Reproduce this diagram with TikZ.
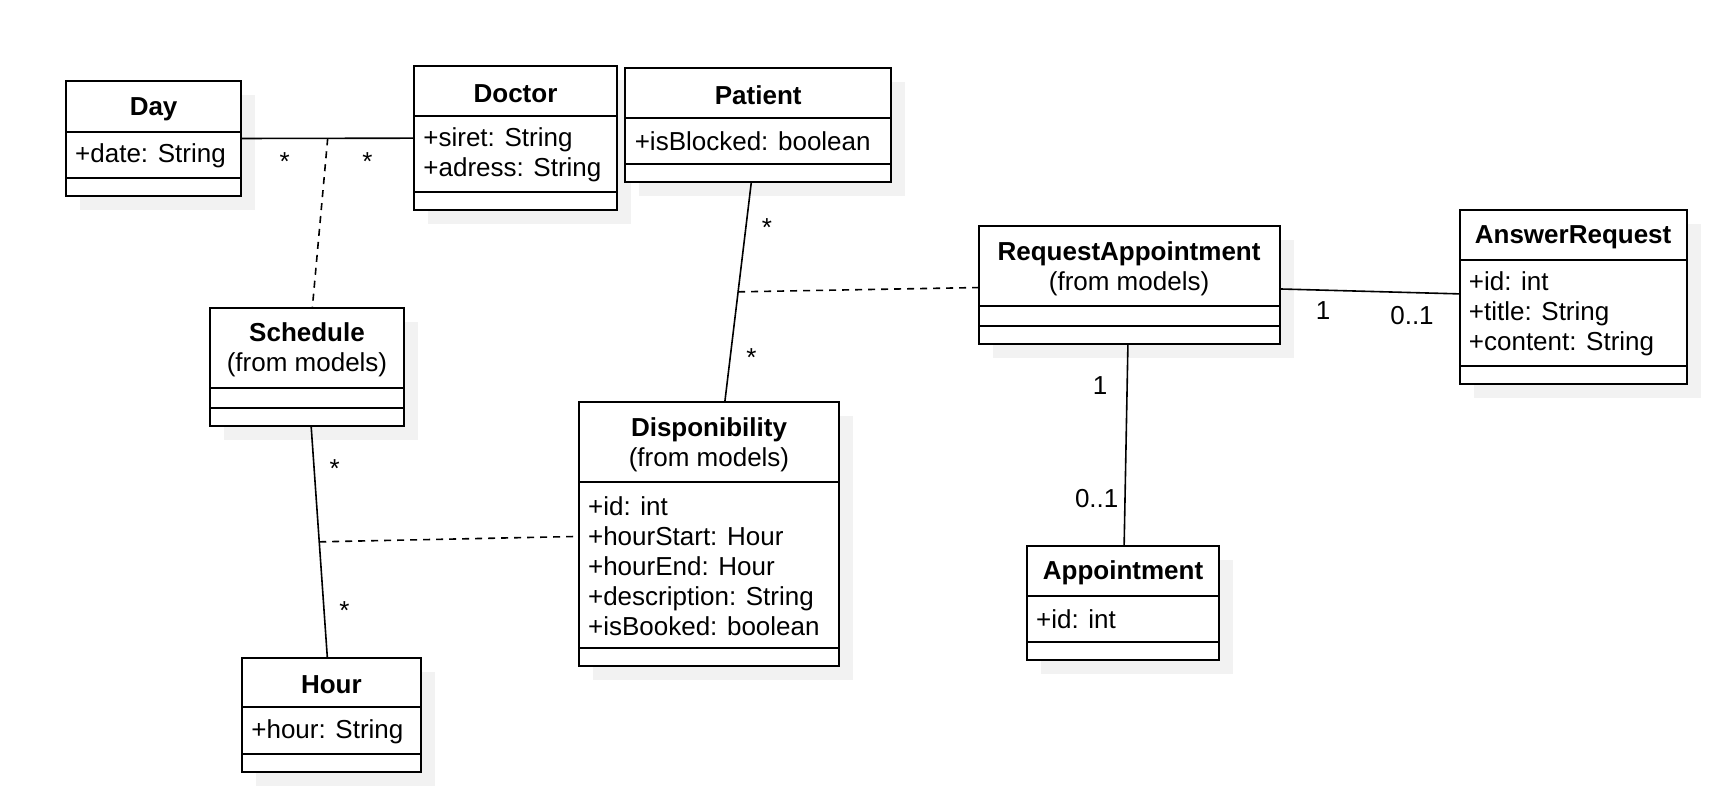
\documentclass[tikz,border=0pt]{standalone}
\usepackage{fontspec}
\setmainfont{Liberation Sans}
\usepackage{tikz}
\usetikzlibrary{fit}
\usetikzlibrary{calc}
\usepackage{color}
\definecolor{shadowgray}{RGB}{242, 242, 242}

\tikzset{
    every node/.style={font=\fontsize{13}{15}\selectfont},
    classbox/.style={draw, fill=white, line width=1pt, inner sep=0pt, outer sep=0pt},
    compart/.style={line width=1pt},
    attrs/.style={anchor=west, align=left, inner xsep=4.5pt, inner ysep=0pt},
    assoc/.style={line width=0.8pt},
    assocdash/.style={line width=0.8pt, dash pattern=on 3.5pt off 3pt},
    mult/.style={anchor=base, inner sep=0pt}
}

% name, left, top, right, bottom, header line, attribute line, title, attributes
\newcommand{\umlclass}[9]{%
    \fill[shadowgray] (#2+14,#3+14) rectangle (#4+14,#5+14);
    \node[classbox, fit={(#2,#3) (#4,#5)}] (#1) {};
    \draw[compart] (#2,#6) -- (#4,#6);
    \draw[compart] (#2,#7) -- (#4,#7);
    \node[align=center] at ({(#2+#4)/2},{(#3+#6)/2+2.5}) {#8};
    \node[attrs] at (#2,{(#6+#7)/2+1}) {#9};
}

\begin{document}
\begin{tikzpicture}[x=0.5pt, y=-0.5pt]
            \useasboundingbox (0,0) rectangle (1718,806);
            % Classes
            \umlclass{day}{65.8}{81.3}{241.4}{196}{131.7}{177.7}{\textbf{Day}}{+date: String}
            \umlclass{doctor}{414}{66}{617}{210}{115.7}{192}{\textbf{Doctor}}{+siret: String\\+adress: String}
            \umlclass{patient}{625.4}{68}{891}{182}{117.7}{163.7}{\textbf{Patient}}{+isBlocked: boolean}
            \umlclass{schedule}{210}{307.7}{404}{425.7}{387.7}{407.7}{\textbf{Schedule}\\(from models)}{}
            \umlclass{request}{978.5}{226}{1279.6}{343.7}{305.7}{325.7}{\textbf{RequestAppointment}\\(from models)}{}
            \umlclass{answer}{1459.5}{210}{1686.7}{384}{260}{366}{\textbf{AnswerRequest}}{+id: int\\+title: String\\+content: String}
            \umlclass{dispo}{578.7}{401.7}{839.3}{665.7}{482}{648}{\textbf{Disponibility}\\(from models)}{+id: int\\+hourStart: Hour\\+hourEnd: Hour\\+description: String\\+isBooked: boolean}
            \umlclass{hour}{242}{658}{420.7}{772}{707.3}{753.7}{\textbf{Hour}}{+hour: String}
            \umlclass{appointment}{1026.8}{545.7}{1219.3}{659.7}{595.7}{641.7}{\textbf{Appointment}}{+id: int}
            % Associations
            \draw[assoc] (day) -- (doctor) coordinate[midway] (daydoc);
            \draw[assoc] (patient) -- (dispo) coordinate[midway] (patdispo);
            \draw[assoc] (schedule) -- (hour) coordinate[midway] (schedhour);
            \draw[assoc] (request) -- (answer);
            \draw[assoc] (request) -- (appointment);
            % Association classes
            \draw[assocdash] (daydoc) -- (schedule);
            \draw[assocdash] (patdispo) -- (request);
            \draw[assocdash] (schedhour) -- (dispo);
            % Multiplicities
            \node[mult] (mday)      at (284.7, 171) {*};
            \node[mult] (mdoctor)   at (367.5, 171) {*};
            \node[mult] (mpatient)  at (767.0, 237) {*};
            \node[mult] (mdispo)    at (751.5, 367) {*};
            \node[mult] (mschedule) at (334.6, 478) {*};
            \node[mult] (mhour)     at (344.5, 619) {*};
            \node[mult] (mreqans)   at (1323.0, 320) {1};
            \node[mult] (manswer)   at (1412.0, 325) {0..1};
            \node[mult] (mreqapp)   at (1100.0, 395) {1};
            \node[mult] (mappoint)  at (1096.7, 508) {0..1};
\end{tikzpicture}
\end{document}
